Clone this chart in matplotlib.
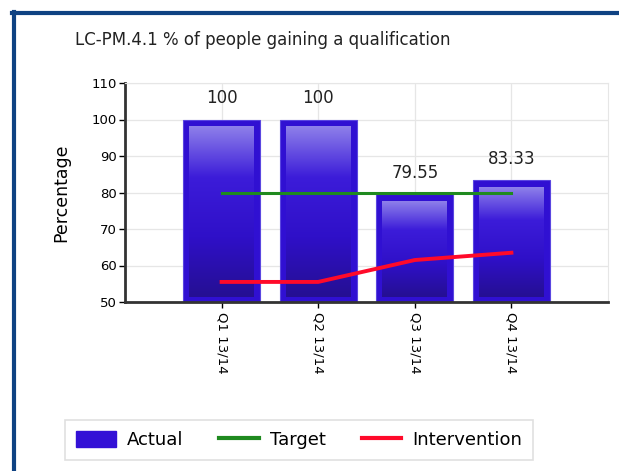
import matplotlib.pyplot as plt
import numpy as np
from matplotlib.colors import LinearSegmentedColormap
from matplotlib.lines import Line2D
from matplotlib.patches import Patch

quarters = ["Q1 13/14", "Q2 13/14", "Q3 13/14", "Q4 13/14"]
actual = [100, 100, 79.55, 83.33]
target = [80, 80, 80, 80]
intervention = [55.5, 55.5, 61.5, 63.5]
labels = ["100", "100", "79.55", "83.33"]

W, H = 619, 471
fig = plt.figure(figsize=(W / 100, H / 100), dpi=100)
ax = fig.add_axes([125 / W, 1 - 302 / H, 483 / W, 219 / H])

x = np.arange(len(quarters))
bw = 0.8
ymin, ymax = 50, 110

# outer bar in flat blue, inner panel with a vertical shade
shade = LinearSegmentedColormap.from_list(
    "shade", [(0, "#8e80ea"), (0.3, "#3c1cd9"), (0.65, "#2f10c8"), (1, "#250f92")])
grad = np.linspace(0, 1, 256).reshape(-1, 1)
ax.bar(x, actual, width=bw, color="#3010d2", edgecolor="#5a46e0", linewidth=0.8, zorder=2)
for xi, v in zip(x, actual):
    ax.imshow(grad, cmap=shade, aspect="auto", zorder=3,
              extent=(xi - bw / 2 + 0.065, xi + bw / 2 - 0.065, 51.5, v - 1.9))

for xi, v, s in zip(x, actual, labels):
    ax.annotate(s, (xi, v), xytext=(0, 9), textcoords="offset points",
                ha="center", va="bottom", fontsize=12, color="#222222")

ax.plot(x, target, color="#1f8a1f", lw=2.2, zorder=4)
ax.plot(x, intervention, color="#ff0a2a", lw=2.8, zorder=4)

ax.set_xlim(-1, 4)
ax.set_ylim(ymin, ymax)
ax.set_yticks(range(50, 111, 10))
ax.set_xticks(x)
ax.set_xticklabels(quarters, rotation=-90, fontsize=9.5)
ax.tick_params(axis="y", labelsize=9.5, length=4, width=1, direction="out", pad=2)
ax.tick_params(axis="x", length=4, width=1, direction="out", pad=3)
ax.grid(True, color="#e6e6e6", lw=0.9, zorder=0)
ax.set_axisbelow(True)
for side in ("top", "right"):
    ax.spines[side].set_color("#e6e6e6")
for side in ("left", "bottom"):
    ax.spines[side].set_color("#333333")
    ax.spines[side].set_linewidth(2)
ax.set_ylabel("Percentage", fontsize=12.5, labelpad=15)

fig.text(75 / W, 1 - 40 / H, "LC-PM.4.1 % of people gaining a qualification",
         fontsize=12, va="center", ha="left", color="#222222")

handles = [Patch(facecolor="#3311d6", edgecolor="#3311d6"),
           Line2D([], [], color="#1f8a1f", lw=3),
           Line2D([], [], color="#ff0a2a", lw=3)]
leg = fig.legend(handles, ["Actual", "Target", "Intervention"], ncol=3,
                 loc="center", bbox_to_anchor=(299 / W, 1 - 440 / H),
                 fontsize=13, frameon=True, fancybox=False, edgecolor="#d8d8d8",
                 handlelength=2.2, handleheight=1.0, handletextpad=0.6,
                 columnspacing=2.0, borderpad=0.6, borderaxespad=0)
leg.get_frame().set_linewidth(1.2)

# frame along the top and left edge
fig.add_artist(Line2D([13.5 / W, 13.5 / W], [0, 1 - 12 / H], color="#0f4282", lw=3,
                      transform=fig.transFigure))
fig.add_artist(Line2D([12 / W, 1], [1 - 13 / H, 1 - 13 / H], color="#0f4282", lw=3,
                      transform=fig.transFigure))

fig.savefig("out.png", dpi=100)
